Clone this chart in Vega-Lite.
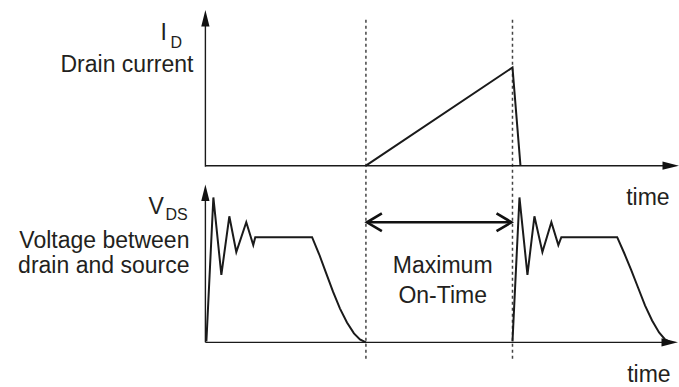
{
  "$schema": "https://vega.github.io/schema/vega-lite/v6.json",
  "width": 679,
  "height": 387,
  "autosize": {"type": "fit", "contains": "padding"},
  "padding": 0,
  "background": "white",
  "config": {"view": {"stroke": null}},
  "datasets": {
    "axes": [
      {"id": "ay1", "o": 1, "x": 206, "y": 168}, {"id": "ay1", "o": 2, "x": 206, "y": 20},
      {"id": "ax1", "o": 1, "x": 206, "y": 167}, {"id": "ax1", "o": 2, "x": 668, "y": 167},
      {"id": "ay2", "o": 1, "x": 206, "y": 345}, {"id": "ay2", "o": 2, "x": 206, "y": 197},
      {"id": "ax2", "o": 1, "x": 206, "y": 345}, {"id": "ax2", "o": 2, "x": 668, "y": 345}
    ],
    "waves": [
      {"id": "w1", "o": 1, "x": 367, "y": 167}, {"id": "w1", "o": 2, "x": 514, "y": 68}, {"id": "w1", "o": 3, "x": 522, "y": 167},
      {"id": "p1", "o": 1, "x": 207, "y": 344}, {"id": "p1", "o": 2, "x": 214, "y": 199}, {"id": "p1", "o": 3, "x": 222, "y": 277},
      {"id": "p1", "o": 4, "x": 230, "y": 218}, {"id": "p1", "o": 5, "x": 237, "y": 254}, {"id": "p1", "o": 6, "x": 247, "y": 224},
      {"id": "p1", "o": 7, "x": 254, "y": 247}, {"id": "p1", "o": 8, "x": 256, "y": 239}, {"id": "p1", "o": 9, "x": 313, "y": 239},
      {"id": "p1", "o": 10, "x": 320, "y": 256}, {"id": "p1", "o": 11, "x": 327, "y": 275}, {"id": "p1", "o": 12, "x": 334, "y": 294},
      {"id": "p1", "o": 13, "x": 341, "y": 311}, {"id": "p1", "o": 14, "x": 348, "y": 325}, {"id": "p1", "o": 15, "x": 355, "y": 336},
      {"id": "p1", "o": 16, "x": 361, "y": 342}, {"id": "p1", "o": 17, "x": 367, "y": 345},
      {"id": "p2", "o": 1, "x": 514, "y": 344}, {"id": "p2", "o": 2, "x": 521, "y": 199}, {"id": "p2", "o": 3, "x": 529, "y": 277},
      {"id": "p2", "o": 4, "x": 536, "y": 218}, {"id": "p2", "o": 5, "x": 544, "y": 254}, {"id": "p2", "o": 6, "x": 553, "y": 224},
      {"id": "p2", "o": 7, "x": 560, "y": 247}, {"id": "p2", "o": 8, "x": 563, "y": 239}, {"id": "p2", "o": 9, "x": 619, "y": 239},
      {"id": "p2", "o": 10, "x": 626, "y": 255}, {"id": "p2", "o": 11, "x": 633, "y": 272}, {"id": "p2", "o": 12, "x": 640, "y": 290},
      {"id": "p2", "o": 13, "x": 647, "y": 308}, {"id": "p2", "o": 14, "x": 654, "y": 323}, {"id": "p2", "o": 15, "x": 661, "y": 335},
      {"id": "p2", "o": 16, "x": 667, "y": 342}, {"id": "p2", "o": 17, "x": 673, "y": 345}
    ],
    "dbl": [
      {"id": "m", "o": 1, "x": 368, "y": 224}, {"id": "m", "o": 2, "x": 513, "y": 224},
      {"id": "h1", "o": 1, "x": 383, "y": 215}, {"id": "h1", "o": 2, "x": 368, "y": 224}, {"id": "h1", "o": 3, "x": 383, "y": 233},
      {"id": "h2", "o": 1, "x": 498, "y": 215}, {"id": "h2", "o": 2, "x": 513, "y": 224}, {"id": "h2", "o": 3, "x": 498, "y": 233}
    ],
    "heads": [
      {"dir": "up", "x": 206, "y": 10},
      {"dir": "up", "x": 206, "y": 186},
      {"dir": "right", "x": 681, "y": 167},
      {"dir": "right", "x": 680, "y": 345}
    ],
    "marks": [
      {"x": 367, "y": 20, "y2": 362},
      {"x": 514, "y": 20, "y2": 362}
    ],
    "labels": [
      {"grp": "right", "t": "Drain current", "x": 194, "y": 73},
      {"grp": "right", "t": "Voltage between", "x": 190, "y": 250},
      {"grp": "right", "t": "drain and source", "x": 190, "y": 275},
      {"grp": "left", "t": "I", "x": 161, "y": 40},
      {"grp": "left", "t": "V", "x": 149, "y": 216},
      {"grp": "left", "t": "time", "x": 628, "y": 207},
      {"grp": "left", "t": "time", "x": 629, "y": 385},
      {"grp": "center", "t": "Maximum", "x": 444, "y": 275},
      {"grp": "center", "t": "On-Time", "x": 444, "y": 305},
      {"grp": "sub", "t": "D", "x": 171, "y": 48},
      {"grp": "sub", "t": "DS", "x": 166, "y": 222}
    ]
  },
  "encoding": {
    "x": {"field": "x", "type": "quantitative", "scale": {"domain": [0, 679], "nice": false, "zero": false}, "axis": null},
    "y": {"field": "y", "type": "quantitative", "scale": {"domain": [0, 387], "nice": false, "zero": false, "reverse": true}, "axis": null}
  },
  "layer": [
    {
      "data": {"name": "marks"},
      "mark": {"type": "rule", "color": "#444444", "strokeWidth": 1.5, "strokeDash": [3, 3]},
      "encoding": {"y2": {"field": "y2"}}
    },
    {
      "data": {"name": "axes"},
      "mark": {"type": "line", "color": "#1a1a1a", "strokeWidth": 1.4},
      "encoding": {"detail": {"field": "id"}, "order": {"field": "o", "type": "quantitative"}}
    },
    {
      "data": {"name": "waves"},
      "mark": {"type": "line", "color": "#1a1a1a", "strokeWidth": 2, "strokeJoin": "miter"},
      "encoding": {"detail": {"field": "id"}, "order": {"field": "o", "type": "quantitative"}}
    },
    {
      "data": {"name": "dbl"},
      "mark": {"type": "line", "color": "#111111", "strokeWidth": 2.6, "strokeJoin": "miter"},
      "encoding": {"detail": {"field": "id"}, "order": {"field": "o", "type": "quantitative"}}
    },
    {
      "data": {"name": "heads"},
      "mark": {"type": "point", "filled": true, "color": "#111111", "size": 225, "opacity": 1, "strokeWidth": 0},
      "encoding": {
        "shape": {"field": "dir", "type": "nominal", "legend": null,
          "scale": {"domain": ["up", "right"], "range": ["M0,0L0.55,2.2L-0.55,2.2Z", "M0,0L-2.2,-0.55L-2.2,0.55Z"]}}
      }
    },
    {
      "data": {"name": "labels"},
      "transform": [{"filter": "datum.grp === 'right'"}],
      "mark": {"type": "text", "align": "right", "baseline": "alphabetic", "font": "Liberation Sans", "fontSize": 23, "color": "#231f20"},
      "encoding": {"text": {"field": "t"}}
    },
    {
      "data": {"name": "labels"},
      "transform": [{"filter": "datum.grp === 'left'"}],
      "mark": {"type": "text", "align": "left", "baseline": "alphabetic", "font": "Liberation Sans", "fontSize": 23, "color": "#231f20"},
      "encoding": {"text": {"field": "t"}}
    },
    {
      "data": {"name": "labels"},
      "transform": [{"filter": "datum.grp === 'center'"}],
      "mark": {"type": "text", "align": "center", "baseline": "alphabetic", "font": "Liberation Sans", "fontSize": 23, "color": "#231f20"},
      "encoding": {"text": {"field": "t"}}
    },
    {
      "data": {"name": "labels"},
      "transform": [{"filter": "datum.grp === 'sub'"}],
      "mark": {"type": "text", "align": "left", "baseline": "alphabetic", "font": "Liberation Sans", "fontSize": 16, "color": "#231f20"},
      "encoding": {"text": {"field": "t"}}
    }
  ]
}
